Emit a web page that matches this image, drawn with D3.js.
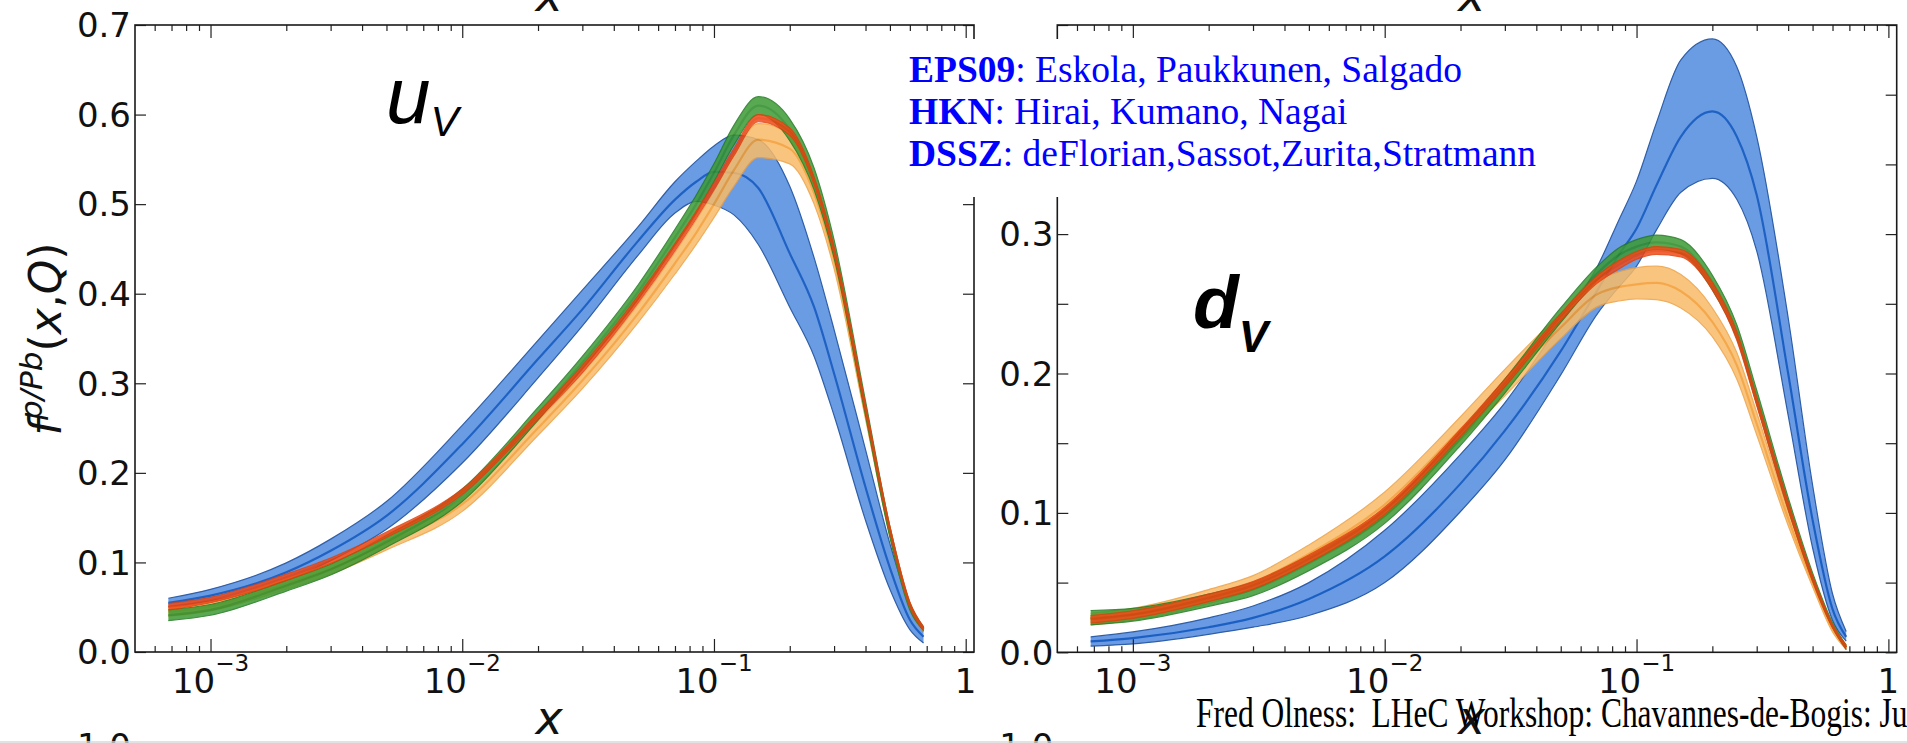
<!DOCTYPE html>
<html><head><meta charset="utf-8">
<script src="https://cdn.jsdelivr.net/npm/d3@7"></script>
<style>
html,body{margin:0;padding:0;background:#fff;}
svg{display:block;}
</style></head>
<body>
<svg id="chart" width="1907" height="743"></svg>
<script>
// Momentum fraction x at which every band is sampled
const xGrid = [6.8e-4, 1e-3, 2e-3, 3e-3, 5e-3, 1e-2, 2e-2, 3e-2, 5e-2, 7e-2, 0.085, 0.1, 0.12, 0.15, 0.2, 0.25, 0.3, 0.4, 0.5, 0.6, 0.68];

// u_v in lead: upper edge, central value, lower edge
const uvBlueHi  = [0.060, 0.070, 0.0995, 0.126, 0.168, 0.253, 0.348, 0.404, 0.475, 0.525, 0.548, 0.565, 0.577, 0.572, 0.520, 0.440, 0.360, 0.226, 0.121, 0.052, 0.023];
const uvBlueMid = [0.055, 0.063, 0.089, 0.113, 0.152, 0.232, 0.327, 0.3825, 0.459, 0.505, 0.525, 0.536, 0.535, 0.518, 0.445, 0.385, 0.311, 0.184, 0.094, 0.036, 0.017];
const uvBlueLo  = [0.0506, 0.057, 0.079, 0.102, 0.137, 0.211, 0.306, 0.364, 0.443, 0.490, 0.503, 0.499, 0.488, 0.455, 0.385, 0.330, 0.264, 0.147, 0.070, 0.025, 0.010];

const uvOrangeHi  = [0.050, 0.056, 0.082, 0.099, 0.128, 0.172, 0.258, 0.311, 0.388, 0.446, 0.482, 0.515, 0.555, 0.590, 0.578, 0.525, 0.448, 0.272, 0.137, 0.054, 0.027];
const uvOrangeMid = [0.045, 0.051, 0.076, 0.093, 0.121, 0.165, 0.250, 0.303, 0.378, 0.434, 0.468, 0.500, 0.538, 0.572, 0.562, 0.512, 0.438, 0.266, 0.133, 0.051, 0.025];
const uvOrangeLo  = [0.040, 0.046, 0.070, 0.087, 0.114, 0.157, 0.242, 0.294, 0.368, 0.422, 0.455, 0.485, 0.520, 0.552, 0.545, 0.500, 0.428, 0.260, 0.129, 0.048, 0.023];

const uvGreenHi  = [0.047, 0.053, 0.080, 0.098, 0.130, 0.182, 0.273, 0.330, 0.410, 0.472, 0.510, 0.545, 0.588, 0.620, 0.595, 0.540, 0.460, 0.280, 0.140, 0.055, 0.028];
const uvGreenMid = [0.041, 0.047, 0.074, 0.092, 0.123, 0.175, 0.266, 0.323, 0.402, 0.463, 0.500, 0.535, 0.577, 0.610, 0.583, 0.528, 0.450, 0.272, 0.134, 0.051, 0.026];
const uvGreenLo  = [0.035, 0.041, 0.068, 0.086, 0.117, 0.168, 0.259, 0.316, 0.394, 0.454, 0.490, 0.525, 0.566, 0.600, 0.571, 0.516, 0.440, 0.264, 0.128, 0.047, 0.024];

const uvRedHi  = [0.054, 0.061, 0.087, 0.105, 0.134, 0.182, 0.267, 0.320, 0.398, 0.456, 0.492, 0.524, 0.562, 0.600, 0.585, 0.530, 0.452, 0.276, 0.140, 0.056, 0.028];
const uvRedMid = [0.0505, 0.058, 0.0835, 0.102, 0.131, 0.179, 0.2635, 0.316, 0.394, 0.452, 0.488, 0.520, 0.558, 0.596, 0.581, 0.526, 0.448, 0.272, 0.137, 0.053, 0.026];
const uvRedLo  = [0.047, 0.055, 0.080, 0.099, 0.128, 0.176, 0.260, 0.312, 0.390, 0.448, 0.484, 0.516, 0.554, 0.592, 0.577, 0.522, 0.444, 0.268, 0.134, 0.050, 0.024];

// d_v in lead: upper edge, central value, lower edge
const dvBlueHi  = [0.011, 0.0146, 0.0247, 0.0332, 0.050, 0.0875, 0.142, 0.179, 0.237, 0.277, 0.310, 0.338, 0.380, 0.425, 0.440, 0.420, 0.370, 0.240, 0.120, 0.042, 0.015];
const dvBlueMid = [0.0078, 0.0102, 0.018, 0.0247, 0.0383, 0.0688, 0.121, 0.159, 0.216, 0.260, 0.285, 0.304, 0.335, 0.370, 0.388, 0.370, 0.328, 0.200, 0.095, 0.031, 0.011];
const dvBlueLo  = [0.0044, 0.006, 0.0129, 0.018, 0.0264, 0.050, 0.101, 0.138, 0.199, 0.243, 0.262, 0.277, 0.303, 0.330, 0.340, 0.325, 0.288, 0.170, 0.075, 0.023, 0.008];

const dvOrangeHi  = [0.028, 0.0315, 0.045, 0.055, 0.077, 0.115, 0.169, 0.203, 0.243, 0.267, 0.273, 0.276, 0.277, 0.271, 0.247, 0.215, 0.172, 0.101, 0.054, 0.020, 0.005];
const dvOrangeMid = [0.0247, 0.0275, 0.040, 0.050, 0.0705, 0.106, 0.160, 0.1925, 0.233, 0.257, 0.262, 0.264, 0.265, 0.259, 0.237, 0.206, 0.164, 0.096, 0.050, 0.017, 0.0035];
const dvOrangeLo  = [0.0197, 0.023, 0.035, 0.045, 0.064, 0.0976, 0.152, 0.184, 0.225, 0.248, 0.252, 0.2536, 0.253, 0.247, 0.2264, 0.196, 0.156, 0.091, 0.047, 0.0146, 0.002];

const dvGreenHi  = [0.030, 0.0315, 0.0417, 0.050, 0.0688, 0.1027, 0.1586, 0.196, 0.247, 0.277, 0.290, 0.296, 0.2993, 0.296, 0.2705, 0.235, 0.188, 0.111, 0.057, 0.0214, 0.005];
const dvGreenMid = [0.0247, 0.027, 0.0373, 0.045, 0.0637, 0.0976, 0.1536, 0.191, 0.2417, 0.272, 0.285, 0.291, 0.294, 0.291, 0.2654, 0.230, 0.183, 0.107, 0.054, 0.0197, 0.0035];
const dvGreenLo  = [0.0197, 0.0224, 0.033, 0.0407, 0.0586, 0.0925, 0.1485, 0.186, 0.2366, 0.267, 0.280, 0.2858, 0.289, 0.2858, 0.260, 0.225, 0.178, 0.1027, 0.0515, 0.018, 0.002];

const dvRedHi  = [0.0264, 0.0298, 0.0417, 0.0508, 0.0698, 0.104, 0.160, 0.196, 0.243, 0.2705, 0.281, 0.2875, 0.291, 0.289, 0.2654, 0.230, 0.183, 0.1078, 0.055, 0.020, 0.005];
const dvRedMid = [0.0237, 0.027, 0.039, 0.048, 0.067, 0.1017, 0.1576, 0.193, 0.2407, 0.2678, 0.278, 0.2847, 0.288, 0.2864, 0.2627, 0.227, 0.180, 0.105, 0.053, 0.019, 0.0035];
const dvRedLo  = [0.021, 0.0244, 0.0363, 0.0454, 0.0644, 0.099, 0.155, 0.1905, 0.238, 0.265, 0.275, 0.282, 0.2854, 0.2837, 0.260, 0.224, 0.177, 0.1024, 0.051, 0.0176, 0.002];

// Axis ticks
const xMajorTicks = [1e-3, 1e-2, 1e-1, 1];
const xMajorExp = ["\u22123", "\u22122", "\u22121", ""];
const uvYTicks = [0, 0.1, 0.2, 0.3, 0.4, 0.5, 0.6, 0.7];
const dvYTicks = [0, 0.05, 0.1, 0.15, 0.2, 0.25, 0.3, 0.35, 0.4, 0.45];

// Legend lines: bold key, plain authors
const legendKeys = ["EPS09", "HKN", "DSSZ"];
const legendAuthors = [": Eskola, Paukkunen, Salgado", ": Hirai, Kumano, Nagai", ": deFlorian,Sassot,Zurita,Stratmann"];
const footerText = "Fred Olness:  LHeC Workshop: Chavannes-de-Bogis: June";

const palette = {
  blue:   {fill: "#6a9ce4", edge: "#2f5fa8", mid: "#1f62c4", op: 1.0},
  orange: {fill: "#f9bb68", edge: "#eea040", mid: "#f39a2c", op: 0.85},
  green:  {fill: "#3d9a34", edge: "#1f7a1f", mid: "#2a8a26", op: 0.85},
  red:    {fill: "#f24a18", edge: "#e0400c", mid: "#e8400e", op: 0.85}
};

function bandRows(hi, mid, lo) {
  return xGrid.map((x, i) => ({x, hi: hi[i], mid: mid[i], lo: lo[i]}));
}

const panels = [
  {
    key: "uv", box: {x0: 135, x1: 974, y0: 25, y1: 652}, yMax: 0.7, yTicks: uvYTicks,
    bands: [
      ["blue", bandRows(uvBlueHi, uvBlueMid, uvBlueLo)],
      ["orange", bandRows(uvOrangeHi, uvOrangeMid, uvOrangeLo)],
      ["green", bandRows(uvGreenHi, uvGreenMid, uvGreenLo)],
      ["red", bandRows(uvRedHi, uvRedMid, uvRedLo)]
    ]
  },
  {
    key: "dv", box: {x0: 1057.3, x1: 1896.7, y0: 25, y1: 652.3}, yMax: 0.45, yTicks: dvYTicks,
    bands: [
      ["blue", bandRows(dvBlueHi, dvBlueMid, dvBlueLo)],
      ["orange", bandRows(dvOrangeHi, dvOrangeMid, dvOrangeLo)],
      ["green", bandRows(dvGreenHi, dvGreenMid, dvGreenLo)],
      ["red", bandRows(dvRedHi, dvRedMid, dvRedLo)]
    ]
  }
];

const svg = d3.select("#chart");
svg.append("rect").attr("width", 1907).attr("height", 743).attr("fill", "#fff");

const minorTicks = [];
for (let k = -4; k <= 0; k++) for (let m = 2; m <= 9; m++) minorTicks.push(m * Math.pow(10, k));

panels.forEach(p => {
  const b = p.box;
  const x = d3.scaleLog().domain([Math.pow(10, -3.3), Math.pow(10, 0.033)]).range([b.x0, b.x1]);
  const y = d3.scaleLinear().domain([0, p.yMax]).range([b.y1, b.y0]);
  const g = svg.append("g");

  g.append("clipPath").attr("id", "clip-" + p.key)
    .append("rect").attr("x", b.x0).attr("y", b.y0).attr("width", b.x1 - b.x0).attr("height", b.y1 - b.y0);
  const plot = g.append("g").attr("clip-path", `url(#clip-${p.key})`);

  const area = d3.area().x(d => x(d.x)).y0(d => y(d.lo)).y1(d => y(d.hi)).curve(d3.curveMonotoneX);
  const line = acc => d3.line().x(d => x(d.x)).y(d => y(acc(d))).curve(d3.curveMonotoneX);

  p.bands.forEach(([name, rows]) => {
    const c = palette[name];
    const bg = plot.append("g").attr("opacity", c.op);
    bg.append("path").datum(rows).attr("d", area).attr("fill", c.fill);
    bg.append("path").datum(rows).attr("d", line(d => d.hi)).attr("fill", "none").attr("stroke", c.edge).attr("stroke-width", 1.2);
    bg.append("path").datum(rows).attr("d", line(d => d.lo)).attr("fill", "none").attr("stroke", c.edge).attr("stroke-width", 1.2);
    bg.append("path").datum(rows).attr("d", line(d => d.mid)).attr("fill", "none").attr("stroke", c.mid).attr("stroke-width", 2.2);
  });

  const tickStyle = sel => {
    sel.select(".domain").remove();
    sel.selectAll(".tick line").attr("stroke", "#222").attr("stroke-width", 1.2);
    sel.selectAll(".tick text").remove();
  };

  const minorIn = minorTicks.filter(v => v > x.domain()[0] && v < x.domain()[1]);

  // x ticks, pointing inward on bottom and top
  g.append("g").attr("transform", `translate(0,${b.y1})`)
    .call(d3.axisBottom(x).tickValues(xMajorTicks).tickSize(-13).tickFormat("")).call(tickStyle);
  g.append("g").attr("transform", `translate(0,${b.y1})`)
    .call(d3.axisBottom(x).tickValues(minorIn).tickSize(-6).tickFormat("")).call(tickStyle);
  g.append("g").attr("transform", `translate(0,${b.y0})`)
    .call(d3.axisTop(x).tickValues(xMajorTicks).tickSize(-13).tickFormat("")).call(tickStyle);
  g.append("g").attr("transform", `translate(0,${b.y0})`)
    .call(d3.axisTop(x).tickValues(minorIn).tickSize(-6).tickFormat("")).call(tickStyle);

  // y ticks, inward on both sides
  g.append("g").attr("transform", `translate(${b.x0},0)`)
    .call(d3.axisLeft(y).tickValues(p.yTicks).tickSize(-11).tickFormat("")).call(tickStyle);
  g.append("g").attr("transform", `translate(${b.x1},0)`)
    .call(d3.axisRight(y).tickValues(p.yTicks).tickSize(-11).tickFormat("")).call(tickStyle);

  // frame
  g.append("rect").attr("x", b.x0).attr("y", b.y0).attr("width", b.x1 - b.x0).attr("height", b.y1 - b.y0)
    .attr("fill", "none").attr("stroke", "#1a1a1a").attr("stroke-width", 1.6);

  // y tick labels
  g.selectAll(".ylab").data(p.yTicks.filter(v => Math.abs(v * 10 - Math.round(v * 10)) < 1e-6))
    .enter().append("text")
    .attr("x", b.x0 - 4).attr("y", d => y(d)).attr("dy", "0.36em")
    .attr("text-anchor", "end").attr("font-family", "DejaVu Sans").attr("font-size", 34).attr("fill", "#111")
    .text(d => d3.format(".1f")(d));

  // x tick labels: 10 with exponent
  xMajorTicks.forEach((v, i) => {
    const t = g.append("text").attr("x", x(v)).attr("y", 693).attr("text-anchor", "middle")
      .attr("font-family", "DejaVu Sans").attr("fill", "#111");
    if (xMajorExp[i] === "") {
      t.attr("font-size", 34).text("1");
    } else {
      t.append("tspan").attr("font-size", 34).text("10");
      t.append("tspan").attr("font-size", 23).attr("dy", -22).text(xMajorExp[i]);
    }
  });

  // x axis title below, and the one from the panel above peeking in at the top
  const xc = (b.x0 + b.x1) / 2 - 0.5;
  g.append("text").attr("x", xc - 5).attr("y", 734).attr("text-anchor", "middle")
    .attr("font-family", "DejaVu Sans").attr("font-style", "italic").attr("font-size", 46).attr("fill", "#111").text("x");
  g.append("text").attr("x", xc - 5).attr("y", 11).attr("text-anchor", "middle")
    .attr("font-family", "DejaVu Sans").attr("font-style", "italic").attr("font-size", 46).attr("fill", "#111").text("x");
  // top label of the panel below
  g.append("text").attr("x", b.x0 - 4).attr("y", 746).attr("dy", "0.36em").attr("text-anchor", "end")
    .attr("font-family", "DejaVu Sans").attr("font-size", 34).attr("fill", "#111").text("1.0");
});

// y axis title
const yTitle = svg.append("text").attr("transform", "translate(61,339) rotate(-90)")
  .attr("text-anchor", "middle").attr("font-family", "DejaVu Sans").attr("font-size", 44).attr("fill", "#111");
yTitle.append("tspan").attr("font-style", "italic").text("f");
yTitle.append("tspan").attr("font-style", "italic").attr("font-size", 31).attr("dy", -19).text("p/Pb");
yTitle.append("tspan").attr("dy", 19).text("(");
yTitle.append("tspan").attr("font-style", "italic").text("x");
yTitle.append("tspan").text(",");
yTitle.append("tspan").attr("font-style", "italic").text("Q");
yTitle.append("tspan").text(")");

// panel names
const uvName = svg.append("text").attr("x", 386).attr("y", 123).attr("font-family", "Liberation Sans")
  .attr("font-style", "italic").attr("font-size", 80).attr("fill", "#000");
uvName.append("tspan").text("u");
uvName.append("tspan").attr("font-size", 42).attr("dy", 13).text("V");

const dvName = svg.append("text").attr("x", 1193).attr("y", 328).attr("font-family", "Liberation Sans")
  .attr("font-style", "italic").attr("font-weight", "bold").attr("font-size", 75).attr("fill", "#000");
dvName.append("tspan").text("d");
dvName.append("tspan").attr("font-size", 44).attr("dy", 24).text("V");

// legend box
svg.append("rect").attr("x", 893).attr("y", 39).attr("width", 667).attr("height", 158).attr("fill", "#fff");
legendKeys.forEach((k, i) => {
  const t = svg.append("text").attr("x", 909).attr("y", 82 + i * 42)
    .attr("font-family", "Liberation Serif").attr("font-size", 37.5).attr("fill", "#0000ff");
  t.append("tspan").attr("font-weight", "bold").text(k);
  t.append("tspan").text(legendAuthors[i]);
});

// footer
const foot = svg.append("text").attr("x", 0).attr("y", 0)
  .attr("font-family", "Liberation Serif").attr("font-size", 42).attr("fill", "#000")
  .style("white-space", "pre").text(footerText);
const probe = svg.append("text").attr("font-family", "Liberation Serif").attr("font-size", 42)
  .style("white-space", "pre").text("Fred Olness:  LHeC Workshop: Chavannes-de-Bogis:");
const natural = probe.node().getComputedTextLength();
probe.remove();
const sx = (1872 - 1196) / natural;
foot.attr("transform", `translate(1196,727) scale(${sx},1)`);

// faint edge of the row below
svg.append("line").attr("x1", 0).attr("x2", 1907).attr("y1", 742).attr("y2", 742)
  .attr("stroke", "#d8d8d8").attr("stroke-width", 1.5);
</script>
</body></html>
